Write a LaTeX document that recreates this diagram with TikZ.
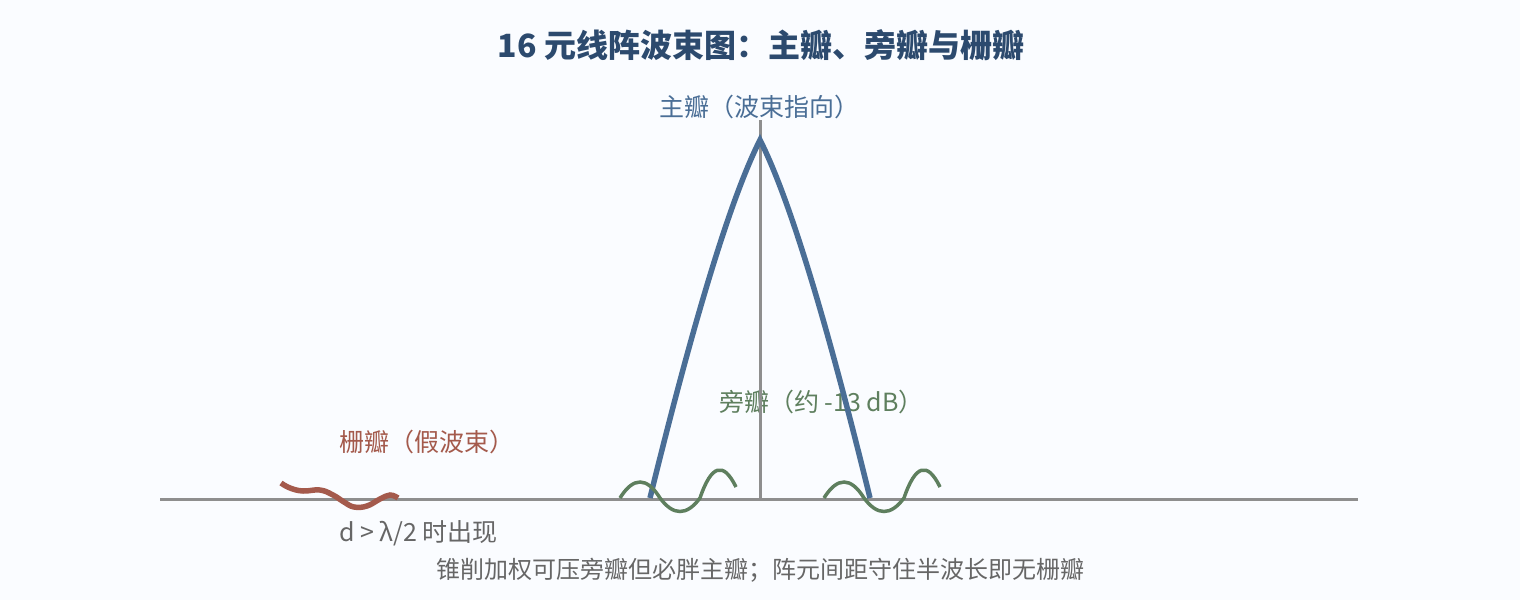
\documentclass[tikz,border=0pt]{standalone}
\usepackage{fontspec}
\setmainfont{Noto Sans CJK SC}
\definecolor{bgblue}{HTML}{FAFCFF}
\definecolor{titleblue}{HTML}{2C4A6E}
\definecolor{lobeblue}{HTML}{4A6E96}
\definecolor{sidegreen}{HTML}{5E7F5E}
\definecolor{gratebrown}{HTML}{A45A4C}
\definecolor{axisgray}{HTML}{8E8E8E}
\definecolor{notegray}{HTML}{666666}
\begin{document}
\begin{tikzpicture}[x=1pt,y=-1pt,
	axis/.style={draw=axisgray,line width=3pt},
	lbl/.style={inner sep=0pt,anchor=base,font=\fontsize{25}{30}\selectfont}]
	\useasboundingbox[fill=bgblue] (0,0) rectangle (1520,600);
	%TITLE
	\node[lbl,font=\fontsize{32}{38}\selectfont\bfseries,text=titleblue] (title) at (761,57) {16 元线阵波束图：主瓣、旁瓣与栅瓣};
	%LABELS
	\node[lbl,text=lobeblue] (mainlbl) at (759,116) {主瓣（波束指向）};
	\node[lbl,anchor=base west,text=sidegreen] (sidelbl) at (719,411) {旁瓣（约 -13 dB）};
	\node[lbl,anchor=base west,text=gratebrown] (gratelbl) at (339,451) {栅瓣（假波束）};
	\node[lbl,anchor=base west,text=notegray] (cond) at (339,541) {d > λ/2 时出现};
	\node[lbl,font=\fontsize{24}{29}\selectfont,text=notegray] (note) at (760,578) {锥削加权可压旁瓣但必胖主瓣；阵元间距守住半波长即无栅瓣};
	%AXES
	\coordinate (O) at (760,499);
	\draw[axis] (160,499) -- (1358,499);
	\draw[axis] (O) -- (760,120) coordinate (top);
	%MAIN LOBE
	\draw[lobeblue,line width=5.5pt] (650,498) .. controls (694.7,316) and (731.3,196.7) .. (760,140) coordinate (peak)
		.. controls (788.7,196.7) and (825.3,316) .. (870,498);
	%SIDE LOBES
	\foreach \dx in {0,204}
		\draw[sidegreen,line width=3.5pt,xshift=\dx] (620,498) .. controls (633.3,476.7) and (646.7,476.7) .. (660,498)
			.. controls (673.3,516) and (686.7,516) .. (700,498)
			.. controls (711.3,464.7) and (723.3,461) .. (736,487);
	%GRATING LOBE
	\draw[gratebrown,line width=5.5pt] plot[smooth,tension=0.7] coordinates {(281,483) (290,488) (303,491) (320,490) (333,495) (344,502) (354,507) (367,506) (380,499) (390,495) (398,498)};
\end{tikzpicture}
\end{document}
